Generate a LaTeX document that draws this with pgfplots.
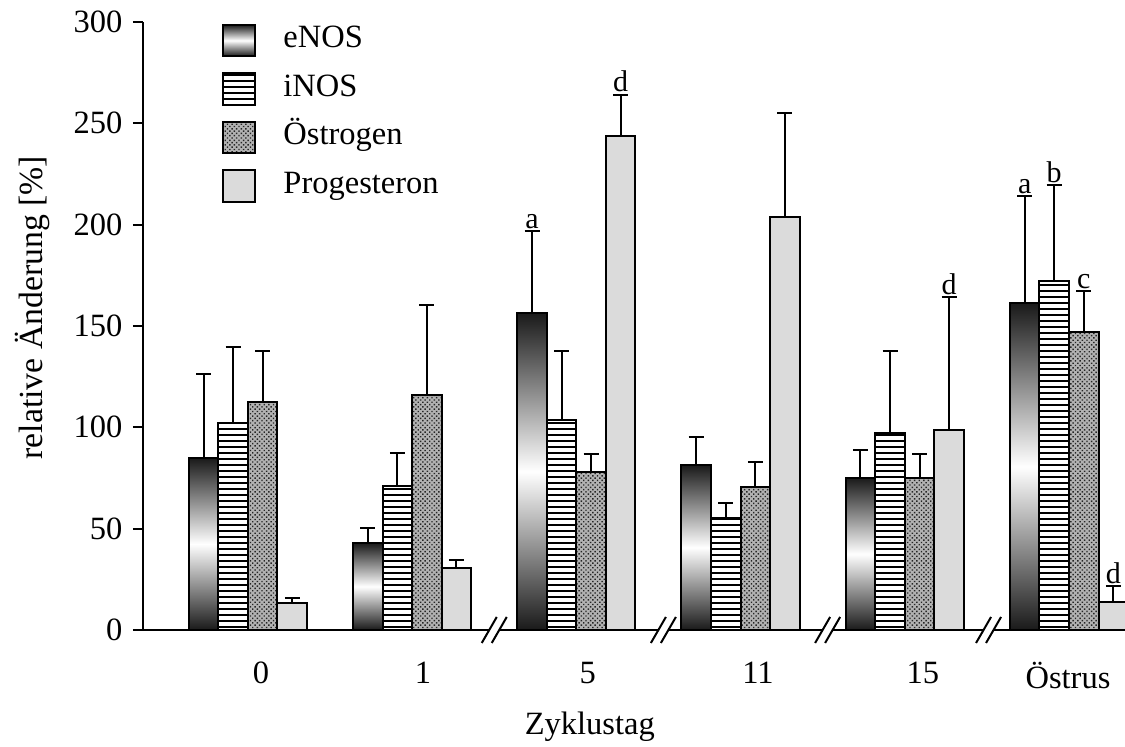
\documentclass[border=0pt]{standalone}
\usepackage{fontspec}
\setmainfont{Liberation Serif}
\usepackage{pgfplots}
\usepackage{pgfplotstable}
\pgfplotsset{compat=1.18}
\usetikzlibrary{patterns.meta}
\definecolor{progc}{gray}{0.86}

\pgfplotstableread{
x y e
0 84.9 41.4
1 42.9 7.4
2 156.4 40.4
3 81.4 13.8
4 75.0 13.8
5 161.3 52.8
}\enos
\pgfplotstableread{
x y e
0 102.0 37.6
1 71.0 16.3
2 103.6 34.0
3 55.3 7.4
4 97.2 40.4
5 172.2 47.3
}\inos
\pgfplotstableread{
x y e
0 112.5 25.1
1 116.0 44.3
2 78.0 8.8
3 70.5 12.4
4 75.0 11.8
5 147.0 20.2
}\oest
\pgfplotstableread{
x y e
0 13.3 2.5
1 30.6 3.9
2 243.7 20.3
3 203.7 51.3
4 98.7 65.6
5 13.8 7.9
}\prog

\newcommand\brk[1]{%
  \fill[white] ([xshift=-5pt,yshift=-5.2pt]axis cs:#1,0) -- ([xshift=1pt,yshift=5.2pt]axis cs:#1,0) -- ([xshift=5pt,yshift=5.2pt]axis cs:#1,0) -- ([xshift=-1pt,yshift=-5.2pt]axis cs:#1,0) -- cycle;
  \draw[line width=0.8pt] ([xshift=-5pt,yshift=-5.2pt]axis cs:#1,0) -- ([xshift=1pt,yshift=5.2pt]axis cs:#1,0);
  \draw[line width=0.8pt] ([xshift=-1pt,yshift=-5.2pt]axis cs:#1,0) -- ([xshift=5pt,yshift=5.2pt]axis cs:#1,0);
}

\pgfplotsset{
  errplot/.style={draw=none, mark=none, forget plot,
    error bars/.cd, y dir=plus, y explicit,
    error bar style={draw=black, solid, line width=0.8pt},
    error mark options={draw=black, rotate=90, mark size=3pt, line width=0.8pt}},
  boxlegend/.style={legend image code/.code={\draw[##1, line width=0.8pt] (0pt,-6.3pt) rectangle (12.8pt,6.3pt);}},
  enosbar/.style={ybar, bar width=0.18, bar shift=-0.27, draw=black, line width=0.8pt,
    top color=black!90, bottom color=black!90, middle color=white, boxlegend},
}

\begin{document}
\fontsize{12}{14}\selectfont
\begin{tikzpicture}
\begin{axis}[
  scale only axis, width=392.8pt, height=243.2pt,
  at={(0,0)}, anchor=south west,
  xmin=-0.639, xmax=5.341, ymin=0, ymax=300,
  axis x line=bottom, axis y line=left,
  axis line style={-, line width=0.8pt},
  ytick={0,50,...,300},
  xtick={0.079,1.066,2.07,3.106,4.11,4.994},
  xticklabels={0,1,5,11,15,Östrus},
  x tick style={draw=none},
  y tick style={line width=0.8pt, black},
  tick align=outside, major tick length=4pt,
  tick label style={font=\fontsize{13}{15}\selectfont},
  xticklabel style={yshift=-4.5pt},
  /pgf/number format/assume math mode=true,
  ylabel={relative Änderung [\%]},
  ylabel style={at={(axis description cs:-0.113,0.53)}, anchor=center, font=\fontsize{13.5}{15}\selectfont},
  xlabel={Zyklustag},
  xlabel style={at={(axis description cs:0.455,-0.172)}, anchor=base, font=\fontsize{13}{15}\selectfont},
  clip mode=individual,
  legend style={at={(axis description cs:0.0804,0.998)}, anchor=north west,
    draw=none, fill=none, inner sep=0pt, row sep=6pt,
    font=\fontsize{13}{15}\selectfont,
    nodes={inner sep=0pt, anchor=west, text height=9pt, text depth=3pt},
    /tikz/every odd column/.append style={column sep=10.8pt}},
  legend cell align=left,
]
\addlegendimage{enosbar}
\addlegendentry{eNOS}
\pgfplotsinvokeforeach{0,...,5}{
  \addplot[enosbar, forget plot, restrict x to domain=#1:#1] table[x=x,y=y] {\enos};
}
\addplot[ybar, bar width=0.18, bar shift=-0.09, draw=black, line width=0.8pt,
  pattern={Lines[angle=0,distance=2.4pt,line width=0.45pt]}, pattern color=black, boxlegend]
  table[x=x,y=y] {\inos};
\addlegendentry{iNOS}
\addplot[ybar, bar width=0.18, bar shift=0.09, draw=black, line width=0.8pt,
  preaction={fill=black!30},
  pattern={Dots[distance=1.3pt,radius=0.4pt,angle=45]}, pattern color=black!85, boxlegend]
  table[x=x,y=y] {\oest};
\addlegendentry{Östrogen}
\addplot[ybar, bar width=0.18, bar shift=0.27, draw=black, line width=0.8pt,
  fill=progc, boxlegend]
  table[x=x,y=y] {\prog};
\addlegendentry{Progesteron}

\addplot[errplot] table[x expr=\thisrow{x}-0.27,y=y,y error=e] {\enos};
\addplot[errplot] table[x expr=\thisrow{x}-0.09,y=y,y error=e] {\inos};
\addplot[errplot] table[x expr=\thisrow{x}+0.09,y=y,y error=e] {\oest};
\addplot[errplot] table[x expr=\thisrow{x}+0.27,y=y,y error=e] {\prog};

\node[anchor=base, inner sep=0pt, yshift=1.2pt] at (axis cs:1.73,196.8) {a};
\node[anchor=base, inner sep=0pt, yshift=1.2pt] at (axis cs:2.27,264) {d};
\node[anchor=base, inner sep=0pt, yshift=1.2pt] at (axis cs:4.27,164.3) {d};
\node[anchor=base, inner sep=0pt, yshift=1.2pt] at (axis cs:4.73,214.1) {a};
\node[anchor=base, inner sep=0pt, yshift=1.2pt] at (axis cs:4.91,219.5) {b};
\node[anchor=base, inner sep=0pt, yshift=1.2pt] at (axis cs:5.09,167.2) {c};
\node[anchor=base, inner sep=0pt, yshift=1.2pt] at (axis cs:5.27,21.7) {d};

\brk{1.5}
\brk{2.53}
\brk{3.53}
\brk{4.51}
\end{axis}
\pgfresetboundingbox
\path[use as bounding box] (-57.2pt,-46.8pt) rectangle (392.8pt,252pt);
\end{tikzpicture}
\end{document}
